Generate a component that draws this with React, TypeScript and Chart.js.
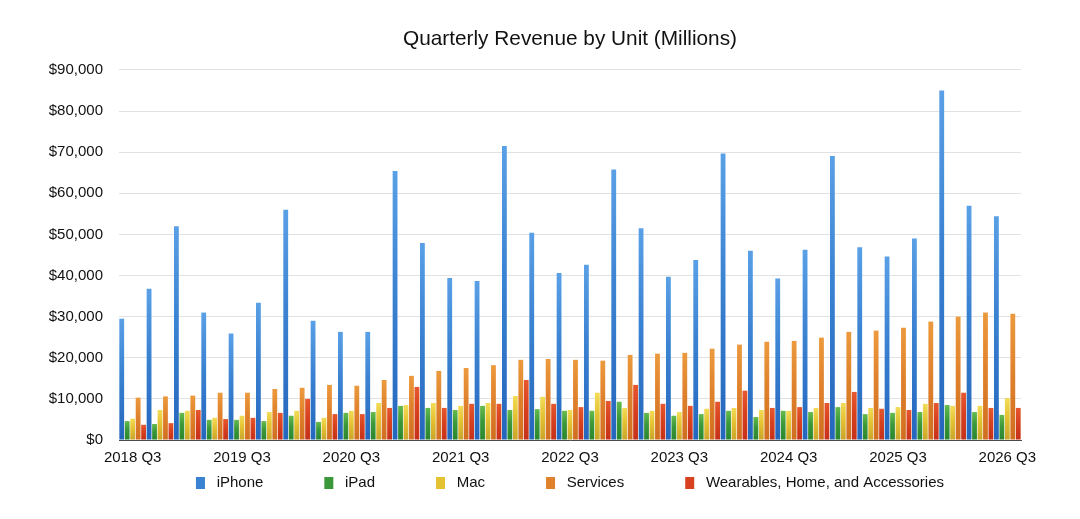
import React, { useEffect, useRef } from "react";
import { Chart, registerables } from "chart.js";

Chart.register(...registerables);

const TITLE = "Quarterly Revenue by Unit (Millions)";

const quarters = [
  "2018 Q3", "2018 Q4", "2019 Q1", "2019 Q2",
  "2019 Q3", "2019 Q4", "2020 Q1", "2020 Q2",
  "2020 Q3", "2020 Q4", "2021 Q1", "2021 Q2",
  "2021 Q3", "2021 Q4", "2022 Q1", "2022 Q2",
  "2022 Q3", "2022 Q4", "2023 Q1", "2023 Q2",
  "2023 Q3", "2023 Q4", "2024 Q1", "2024 Q2",
  "2024 Q3", "2024 Q4", "2025 Q1", "2025 Q2",
  "2025 Q3", "2025 Q4", "2026 Q1", "2026 Q2",
  "2026 Q3",
];

const iphone = [
  29500, 36800, 52000, 31000, 25900, 33400, 56000, 29000, 26300, 26300, 65400,
  47900, 39400, 38700, 71500, 50400, 40600, 42600, 65800, 51500, 39700, 43800,
  69700, 46000, 39300, 46300, 69100, 46900, 44600, 49000, 85000, 57000, 54400,
];
const ipad = [
  4600, 3900, 6600, 4900, 4900, 4600, 5900, 4400, 6600, 6800, 8300,
  7800, 7300, 8300, 7300, 7500, 7100, 7100, 9300, 6600, 5900, 6300,
  7100, 5600, 7100, 6800, 8000, 6300, 6600, 6800, 8500, 6800, 6100,
];
const mac = [
  5200, 7300, 7100, 5400, 5900, 6800, 7100, 5400, 7100, 9000, 8500,
  9000, 8300, 9000, 10700, 10500, 7300, 11500, 7800, 7100, 6800, 7600,
  7800, 7300, 7100, 7800, 9000, 7800, 8000, 8800, 8300, 8300, 10200,
];
const services = [
  10300, 10600, 10800, 11500, 11500, 12400, 12700, 13400, 13200, 14600, 15600,
  16800, 17500, 18200, 19500, 19700, 19500, 19300, 20700, 21000, 21200, 22200,
  23200, 23900, 24100, 24900, 26300, 26600, 27300, 28800, 30000, 31000, 30700,
];
const wearables = [
  3700, 4100, 7300, 5100, 5400, 6600, 10000, 6300, 6300, 7800, 12900,
  7800, 8800, 8800, 14600, 8800, 8000, 9500, 13400, 8800, 8300, 9300,
  12000, 7800, 8000, 9000, 11700, 7600, 7300, 9000, 11500, 7800, 7800,
];

const seriesNames = ["iPhone", "iPad", "Mac", "Services", "Wearables, Home, and Accessories"];
const seriesColors = ["#3a82d2", "#3a983a", "#e4c232", "#e0822c", "#d8411f"];
const seriesTop = ["#5aa0e6", "#66bb4c", "#f2dc58", "#ec9a3e", "#e6582e"];
const seriesBottom = ["#2466bc", "#2a862e", "#c9a42a", "#d06e20", "#c4301a"];

const FONT = "'Liberation Sans', Arial, Helvetica, sans-serif";
const LEGEND_PAD = 61;

const legendShift = {
  id: "legendShift",
  afterLayout(chart: any) {
    const lg = chart.legend;
    if (!lg) return;
    // place legend row just below the x-axis labels
    lg.top = chart.scales.x.bottom - 55.5;
    lg.bottom = chart.height;
    lg.height = lg.bottom - lg.top;
  },
};

function barFill(i: number) {
  return (ctx: any) => {
    const chart = ctx.chart;
    const ca = chart.chartArea;
    const ys = chart.scales && chart.scales.y;
    if (!ca || !ys || ctx.type !== "data" || typeof ctx.raw !== "number") return seriesColors[i];
    const top = ys.getPixelForValue(ctx.raw);
    const bottom = ys.getPixelForValue(0);
    if (!isFinite(top) || bottom - top < 1) return seriesColors[i];
    const g = chart.ctx.createLinearGradient(0, top, 0, bottom);
    g.addColorStop(0, seriesTop[i]);
    g.addColorStop(0.45, seriesColors[i]);
    g.addColorStop(1, seriesBottom[i]);
    return g;
  };
}

export default function App() {
  const ref = useRef<HTMLCanvasElement>(null);

  useEffect(() => {
    const values = [iphone, ipad, mac, services, wearables];
    const chart = new Chart(ref.current as HTMLCanvasElement, {
      type: "bar",
      data: {
        labels: quarters,
        datasets: seriesNames.map((name, i) => ({
          label: name,
          data: values[i],
          backgroundColor: barFill(i),
          borderWidth: 0,
          barPercentage: 0.88,
          categoryPercentage: 1.0,
        })),
      },
      options: {
        responsive: false,
        animation: false,
        layout: { padding: { top: 0, right: 59, bottom: 0, left: 0 } },
        plugins: {
          title: {
            display: true,
            text: TITLE,
            fullSize: false,
            color: "#111",
            font: { family: FONT, size: 20.8, weight: "normal" },
            padding: { top: 27, bottom: 18 },
          },
          legend: {
            position: "bottom",
            fullSize: false,
            maxHeight: 49,
            labels: {
              boxWidth: 9,
              boxHeight: 12,
              padding: LEGEND_PAD,
              color: "#111",
              font: { family: FONT, size: 15 },
              generateLabels: (c: any) =>
                Chart.defaults.plugins.legend.labels
                  .generateLabels(c)
                  .map((l: any, i: number) => ({
                    ...l,
                    text: " " + l.text,
                    fillStyle: seriesColors[i],
                    strokeStyle: seriesColors[i],
                    lineWidth: 0,
                  })),
            },
          },
          tooltip: { enabled: false },
        },
        scales: {
          x: {
            grid: { display: false, drawTicks: false },
            border: { display: true, color: "#4a4a4a", width: 1 },
            ticks: {
              autoSkip: false,
              maxRotation: 0,
              minRotation: 0,
              padding: 9,
              color: "#111",
              font: { family: FONT, size: 15 },
              callback: (_v: any, idx: number) => (idx % 4 === 0 ? quarters[idx] : ""),
            },
            afterFit: (s: any) => {
              s.height = 30;
            },
          },
          y: {
            min: 0,
            max: 90000,
            grid: { color: "#e2e2e2", drawTicks: false },
            border: { display: false },
            ticks: {
              stepSize: 10000,
              padding: 16,
              color: "#111",
              font: { family: FONT, size: 15 },
              callback: (v: any) => "$" + Number(v).toLocaleString("en-US"),
            },
            afterFit: (s: any) => {
              s.width = 119;
            },
          },
        },
      },
      plugins: [legendShift],
    } as any);
    return () => chart.destroy();
  }, []);

  return (
    <div style={{ position: "absolute", left: 0, top: 0, width: 1080, height: 519, background: "#fff" }}>
      <canvas ref={ref} width={1080} height={519} style={{ width: 1080, height: 519, display: "block" }} />
    </div>
  );
}
